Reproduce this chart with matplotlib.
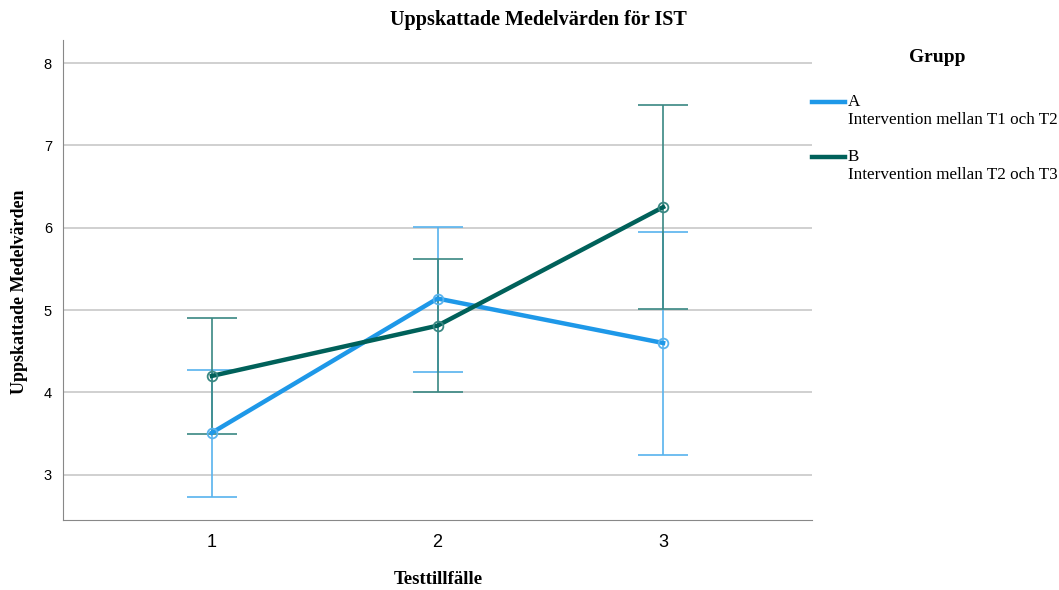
import matplotlib.pyplot as plt
from matplotlib.lines import Line2D

# estimated marginal means with 95% CI per test occasion
tillfallen = [1, 2, 3]
medel_a = [3.51, 5.14, 4.60]
ci_low_a = [2.73, 4.25, 3.24]
ci_high_a = [4.27, 6.01, 5.95]
medel_b = [4.20, 4.81, 6.25]
ci_low_b = [3.50, 4.00, 5.01]
ci_high_b = [4.90, 5.62, 7.49]
grupper = ["A", "B"]
beskrivning = ["Intervention mellan T1 och T2", "Intervention mellan T2 och T3"]

serif = ["Liberation Serif", "DejaVu Serif"]
sans = ["Liberation Sans", "DejaVu Sans"]

fig = plt.figure(figsize=(10.59, 5.90), dpi=100)
ax = fig.add_axes([63 / 1059, 70 / 590, 749 / 1059, 480 / 590])

serier = [
    (medel_a, ci_low_a, ci_high_a, "#1e98e8", "#58b3ee"),
    (medel_b, ci_low_b, ci_high_b, "#00615a", "#3a8883"),
]
for medel, lo, hi, farg, errfarg in serier:
    err = [[m - l for m, l in zip(medel, lo)], [h - m for m, h in zip(medel, hi)]]
    ax.errorbar(tillfallen, medel, yerr=err, fmt="none", ecolor=errfarg,
                elinewidth=1.2, capsize=18, capthick=1.2, zorder=2)
    ax.plot(tillfallen, medel, color=farg, lw=3.2, zorder=3)
    ax.plot(tillfallen, medel, "o", ms=7, mfc="none", mec=errfarg, mew=1.3, zorder=4)

ax.set_xlim(0.34, 3.66)
ax.set_ylim(2.45, 8.28)
ax.set_xticks(tillfallen)
ax.set_yticks([3, 4, 5, 6, 7, 8])
ax.yaxis.grid(True, color="#c8c8c8", lw=1.2)
ax.set_axisbelow(True)
for s in ["top", "right"]:
    ax.spines[s].set_visible(False)
for s in ["left", "bottom"]:
    ax.spines[s].set_color("#888888")
ax.tick_params(length=0)
ax.tick_params(axis="x", labelsize=13, pad=10)
ax.tick_params(axis="y", labelsize=10.5, pad=8)
for lbl in ax.get_xticklabels() + ax.get_yticklabels():
    lbl.set_family(sans)

# titles and axis labels
fig.text(538 / 1059, 1 - 20 / 590, "Uppskattade Medelvärden för IST", family=serif,
         fontsize=14.5, fontweight="bold", ha="center", va="center")
fig.text(438 / 1059, 1 - 580 / 590, "Testtillfälle", family=serif, fontsize=13.5,
         fontweight="bold", ha="center", va="center")
fig.text(20 / 1059, 1 - 292 / 590, "Uppskattade Medelvärden", family=serif, fontsize=13,
         fontweight="bold", ha="center", va="center", rotation=90)

# legend
fig.text(937 / 1059, 1 - 58 / 590, "Grupp", family=serif, fontsize=14,
         fontweight="bold", ha="center", va="center")
for i, (g, text, farg) in enumerate(zip(grupper, beskrivning, ["#1e98e8", "#00615a"])):
    y = 1 - (102 + 55 * i) / 590
    fig.add_artist(Line2D([812 / 1059, 845 / 1059], [y, y], color=farg, lw=3.2,
                          transform=fig.transFigure))
    fig.text(848 / 1059, y, g, family=serif, fontsize=12.3, va="center")
    fig.text(848 / 1059, y - 18 / 590, text, family=serif, fontsize=12.3, va="center")

fig.savefig("out.png", dpi=100)
